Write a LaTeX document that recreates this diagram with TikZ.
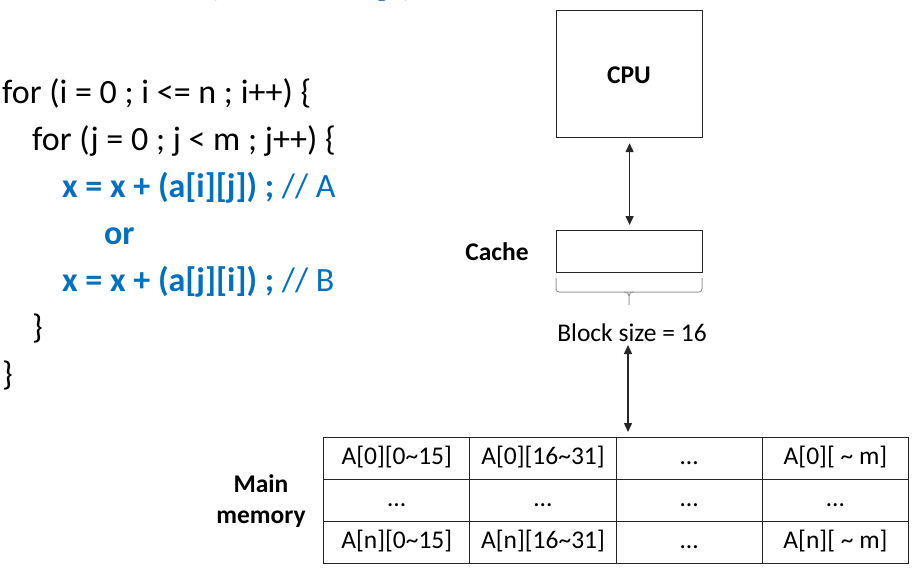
\documentclass[tikz,border=0pt]{standalone}
\usepackage{fontspec}
\setmainfont{Carlito}
\usetikzlibrary{arrows.meta}
\definecolor{codeblue}{HTML}{0070C0}
\definecolor{titleblue}{HTML}{1F5C99}
\begin{document}
\begin{tikzpicture}[x=1pt,y=-1pt,
  code/.style={anchor=base west,inner sep=0pt,font=\fontsize{34}{40}\selectfont},
  bcode/.style={code,text=codeblue,font=\fontsize{34}{40}\selectfont\bfseries},
  lbl/.style={inner sep=0pt,font=\fontsize{25.5}{30}\selectfont\bfseries,align=center},
  boxx/.style={draw=black!85,line width=1.2pt,anchor=north west,inner sep=0pt,minimum width=146pt},
  cell/.style={draw=black!85,line width=1.2pt,minimum width=146.25pt,minimum height=42pt,inner sep=0pt,
    text height=18pt,text depth=6pt,font=\fontsize{25.5}{30}\selectfont,anchor=north west},
  link/.style={line width=1.4pt,draw=black!85,{Triangle[length=9pt,width=8pt]}-{Triangle[length=9pt,width=8pt]}},
  bracegray/.style={draw=black!40,line width=1pt}]
\useasboundingbox (0,0) rectangle (924,584);
\begin{scope}
\clip (0,0) rectangle (924,584);
\node[anchor=base west,inner sep=0pt,text=titleblue,font=\fontsize{56}{60}\selectfont\bfseries] (title) at (205,-8) {(Locality)};
\end{scope}
% code
\node[code] (l1) at (2,103) {for (i = 0 ; i <= n ; i++) \{};
\node[code] (l2) at (32,150) {for (j = 0 ; j < m ; j++) \{};
\node[bcode] (l3) at (62,197) {x = x + (a[i][j]) ; \mdseries// A};
\node[bcode] (l4) at (104,244) {or};
\node[bcode] (l5) at (62,291) {x = x + (a[j][i]) ; \mdseries// B};
\node[code] (l6) at (32,338) {\}};
\node[code] (l7) at (2,385) {\}};
% cpu and cache
\node[boxx,minimum height=127pt] (cpu) at (556,10) {};
\node[lbl] (cpulbl) at (629,75) {CPU};
\node[boxx,minimum height=42pt] (cache) at (556,230) {};
\node[lbl] (cachelbl) at (497,252) {Cache};
\path (cpu.south) ++(0,5) coordinate (a1) (cache.north) ++(0,-5) coordinate (a2);
\draw[link] (a1) -- (a2);
\coordinate (bl) at (556,278);
\coordinate (br) at (702,278);
\coordinate (bt) at (629,305);
\draw[bracegray,rounded corners=3pt] (bl) |- (629,292) -| (br);
\draw[bracegray] (bt) -- (629,296) .. controls (629,293) and (627,292) .. (624,292);
\draw[bracegray] (629,296) .. controls (629,293) and (631,292) .. (634,292);
\node[inner sep=0pt,font=\fontsize{25.5}{30}\selectfont] (bs) at (632,333) {Block size = 16};
% memory table
\foreach \r/\a/\b/\c/\d in {0/A[0][0\char`\~15]/A[0][16\char`\~31]/…/A[0][ \char`\~{} m],
  1/…/…/…/…,
  2/A[n][0\char`\~15]/A[n][16\char`\~31]/…/A[n][ \char`\~{} m]}{
  \node[cell] (m\r-0) at (323,437+42*\r) {\a};
  \node[cell] (m\r-1) at (469.25,437+42*\r) {\b};
  \node[cell] (m\r-2) at (615.5,437+42*\r) {\c};
  \node[cell] (m\r-3) at (761.75,437+42*\r) {\d};
}
\node[lbl] (mainlbl) at (261,501) {Main\\[1pt]memory};
\coordinate (b1) at (628,345);
\coordinate (b2) at (628,432);
\draw[link] (b1) -- (b2);
\end{tikzpicture}
\end{document}
